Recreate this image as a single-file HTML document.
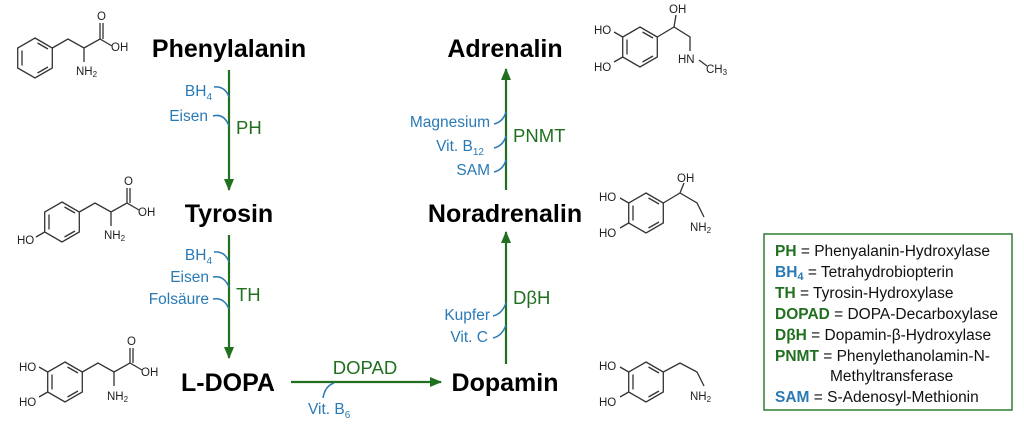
<!DOCTYPE html>
<html><head><meta charset="utf-8"><style>
html,body{margin:0;padding:0;background:#fff;}
svg{display:block;}
.n{font:bold 25px "Liberation Sans",sans-serif;fill:#000;}
.c{font:15.5px "Liberation Sans",sans-serif;fill:#2a7ab5;}
.e{font:18.5px "Liberation Sans",sans-serif;fill:#207020;}
.m{font:11.5px "Liberation Sans",sans-serif;fill:#222;}
.l{font:15.5px "Liberation Sans",sans-serif;fill:#111;}
.lg{font:bold 15.5px "Liberation Sans",sans-serif;fill:#207020;}
.lb{font:bold 15.5px "Liberation Sans",sans-serif;fill:#2a7ab5;}
.hook{fill:none;stroke:#2a7ab5;stroke-width:1.5;}
.mol{fill:none;stroke:#333;stroke-width:1.3;}
</style></head><body>
<svg width="1024" height="433" viewBox="0 0 1024 433" xmlns="http://www.w3.org/2000/svg">
<defs>
<marker id="ah" markerWidth="12" markerHeight="12" refX="11" refY="6" orient="auto" markerUnits="userSpaceOnUse">
<path d="M0,1 L12,6 L0,11 Z" fill="#207020"/></marker>
<g id="ring" class="mol">
<polygon points="0,-20 17.3,-10 17.3,10 0,20 -17.3,10 -17.3,-10"/>
<line x1="-13" y1="-7.5" x2="-13" y2="7.5"/><line x1="2.5" y1="-15" x2="13" y2="-9"/><line x1="2.5" y1="15" x2="13" y2="9"/>
</g>
</defs>

<text class="n" x="229" y="57" text-anchor="middle">Phenylalanin</text>
<text class="n" x="229" y="222" text-anchor="middle">Tyrosin</text>
<text class="n" x="228" y="391" text-anchor="middle">L-DOPA</text>
<text class="n" x="505" y="391" text-anchor="middle">Dopamin</text>
<text class="n" x="505" y="222" text-anchor="middle">Noradrenalin</text>
<text class="n" x="505" y="57" text-anchor="middle">Adrenalin</text>

<g stroke="#207020" stroke-width="2.2" fill="none">
<line x1="229" y1="70" x2="229" y2="190" marker-end="url(#ah)"/>
<line x1="229" y1="235" x2="229" y2="358" marker-end="url(#ah)"/>
<line x1="291" y1="382" x2="441" y2="382" marker-end="url(#ah)"/>
<line x1="506" y1="364" x2="506" y2="232" marker-end="url(#ah)"/>
<line x1="506" y1="190" x2="506" y2="69" marker-end="url(#ah)"/>
</g>

<text class="c" x="212" y="96" text-anchor="end">BH<tspan font-size="10" dy="4">4</tspan></text>
<path class="hook" d="M214,87 Q225,86 229,97"/>
<text class="c" x="208" y="121" text-anchor="end">Eisen</text>
<path class="hook" d="M213,116 Q224,113 229,126"/>
<text class="e" x="236" y="134">PH</text>

<text class="c" x="212" y="260" text-anchor="end">BH<tspan font-size="10" dy="4">4</tspan></text>
<path class="hook" d="M214,252 Q225,251 229,262"/>
<text class="c" x="209" y="282" text-anchor="end">Eisen</text>
<path class="hook" d="M213,277 Q224,275 229,287"/>
<text class="c" x="209" y="304" text-anchor="end">Folsäure</text>
<path class="hook" d="M213,299 Q224,297 229,309"/>
<text class="e" x="236" y="301">TH</text>

<text class="e" x="365" y="374" text-anchor="middle">DOPAD</text>
<path class="hook" d="M334,383 Q325,386 323,398"/>
<text class="c" x="308" y="414">Vit. B<tspan font-size="10" dy="4">6</tspan></text>

<text class="c" x="490" y="320" text-anchor="end">Kupfer</text>
<path class="hook" d="M493,316 Q502,314 506,303"/>
<text class="c" x="488" y="342" text-anchor="end">Vit. C</text>
<path class="hook" d="M493,338 Q502,336 506,325"/>
<text class="e" x="513" y="304">DβH</text>

<text class="c" x="490" y="127" text-anchor="end">Magnesium</text>
<path class="hook" d="M494,124 Q503,122 506,112"/>
<text class="c" x="484" y="151" text-anchor="end">Vit. B<tspan font-size="10" dy="4">12</tspan></text>
<path class="hook" d="M494,148 Q503,146 506,136"/>
<text class="c" x="490" y="175" text-anchor="end">SAM</text>
<path class="hook" d="M494,172 Q503,170 506,160"/>
<text class="e" x="513" y="142">PNMT</text>

<rect x="764" y="234" width="248" height="176" fill="#fff" stroke="#2e7d32" stroke-width="1.5"/>
<text x="775" y="256"><tspan class="lg">PH</tspan><tspan class="l"> = Phenyalanin-Hydroxylase</tspan></text>
<text x="775" y="277"><tspan class="lb">BH<tspan font-size="11" dy="3">4</tspan></tspan><tspan class="l" dy="-3"> = Tetrahydrobiopterin</tspan></text>
<text x="775" y="298"><tspan class="lg">TH</tspan><tspan class="l"> = Tyrosin-Hydroxylase</tspan></text>
<text x="775" y="319"><tspan class="lg">DOPAD</tspan><tspan class="l"> = DOPA-Decarboxylase</tspan></text>
<text x="775" y="340"><tspan class="lg">DβH</tspan><tspan class="l"> = Dopamin-β-Hydroxylase</tspan></text>
<text x="775" y="361"><tspan class="lg">PNMT</tspan><tspan class="l"> = Phenylethanolamin-N-</tspan></text>
<text class="l" x="830" y="381">Methyltransferase</text>
<text x="775" y="402"><tspan class="lb">SAM</tspan><tspan class="l"> = S-Adenosyl-Methionin</tspan></text>

<!-- Phenylalanine -->
<use href="#ring" x="35" y="58"/>
<g class="mol"><polyline points="52.3,48 68,39 84,48 100,39 112,46"/><line x1="100" y1="39" x2="100" y2="23"/><line x1="103" y1="39" x2="103" y2="23"/><line x1="84" y1="48" x2="84" y2="62"/></g>
<text class="m" x="97" y="20">O</text><text class="m" x="111" y="51">OH</text><text class="m" x="76" y="75">NH<tspan font-size="8" dy="2">2</tspan></text>

<!-- Tyrosine -->
<use href="#ring" x="62" y="222"/>
<g class="mol"><polyline points="79.3,212 95,203 111,212 127,203 139,210"/><line x1="127" y1="203" x2="127" y2="188"/><line x1="130" y1="203" x2="130" y2="188"/><line x1="111" y1="212" x2="111" y2="226"/><line x1="44.7" y1="232" x2="36" y2="237"/></g>
<text class="m" x="124" y="185">O</text><text class="m" x="138" y="216">OH</text><text class="m" x="104" y="239">NH<tspan font-size="8" dy="2">2</tspan></text><text class="m" x="17" y="244">HO</text>

<!-- L-DOPA -->
<use href="#ring" x="65" y="382"/>
<g class="mol"><polyline points="82.3,372 98,363 114,372 130,363 142,370"/><line x1="130" y1="363" x2="130" y2="348"/><line x1="133" y1="363" x2="133" y2="348"/><line x1="114" y1="372" x2="114" y2="386"/><line x1="47.7" y1="372" x2="39" y2="367"/><line x1="47.7" y1="392" x2="39" y2="397"/></g>
<text class="m" x="127" y="345">O</text><text class="m" x="141" y="376">OH</text><text class="m" x="107" y="400">NH<tspan font-size="8" dy="2">2</tspan></text><text class="m" x="19" y="371">HO</text><text class="m" x="19" y="406">HO</text>

<!-- Dopamine -->
<use href="#ring" x="646" y="382"/>
<g class="mol"><polyline points="663.3,372 680,363 697,372 704,386"/><line x1="628.7" y1="372" x2="620" y2="367"/><line x1="628.7" y1="392" x2="620" y2="397"/></g>
<text class="m" x="599" y="370">HO</text><text class="m" x="599" y="406">HO</text><text class="m" x="690" y="400">NH<tspan font-size="8" dy="2">2</tspan></text>

<!-- Noradrenaline -->
<use href="#ring" x="646" y="213"/>
<g class="mol"><polyline points="663.3,203 680,193 697,203 704,217"/><line x1="680" y1="193" x2="684" y2="183"/><line x1="628.7" y1="203" x2="620" y2="198"/><line x1="628.7" y1="223" x2="620" y2="228"/></g>
<text class="m" x="677" y="182">OH</text><text class="m" x="599" y="201">HO</text><text class="m" x="599" y="237">HO</text><text class="m" x="690" y="231">NH<tspan font-size="8" dy="2">2</tspan></text>

<!-- Adrenaline -->
<use href="#ring" x="640" y="47"/>
<g class="mol"><polyline points="657.3,37 674,27 690,37 690,51"/><line x1="674" y1="27" x2="676" y2="15"/><line x1="622.7" y1="37" x2="614" y2="32"/><line x1="622.7" y1="57" x2="614" y2="62"/><line x1="699" y1="60" x2="707" y2="66"/></g>
<text class="m" x="669" y="13">OH</text><text class="m" x="594" y="34">HO</text><text class="m" x="594" y="71">HO</text><text class="m" x="678" y="63">HN</text><text class="m" x="706" y="73">CH<tspan font-size="8" dy="2">3</tspan></text>
</svg>
</body></html>
